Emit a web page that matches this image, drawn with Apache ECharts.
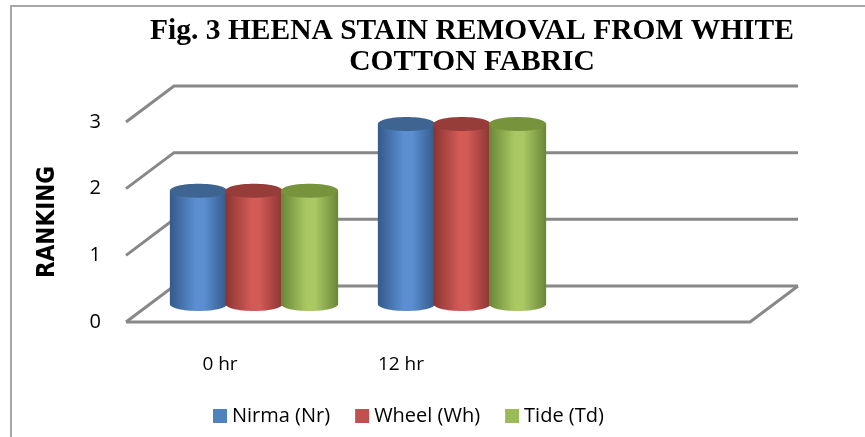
<!DOCTYPE html>
<html>
<head>
<meta charset="utf-8">
<script src="https://cdn.jsdelivr.net/npm/echarts@6/dist/echarts.min.js"></script>
<style>
  html, body { margin: 0; padding: 0; background: #fff; }
  #chart { width: 865px; height: 437px; }
</style>
</head>
<body>
<div id="chart"></div>
<script>
  // data
  const categories = ['0 hr', '12 hr', ''];
  const nirma = [1.7, 2.7];
  const wheel = [1.7, 2.7];
  const tide = [1.7, 2.7];
  const yTicks = [0, 1, 2, 3];

  const chart = echarts.init(document.getElementById('chart'));

  // depth of the 3D box (back wall offset) and where the cylinders stand
  const WALL_DX = 48, WALL_DY = -36;
  const BAR_DX = 24, BAR_DY = -18;

  const looks = [
    { name: 'Nirma (Nr)', flat: '#4f81bd', dark: '#35598a', mid: '#5b8fd1', top: '#3e6492' },
    { name: 'Wheel (Wh)', flat: '#c0504d', dark: '#8a3533', mid: '#d25a57', top: '#963c39' },
    { name: 'Tide (Td)', flat: '#9bbb59', dark: '#6a8636', mid: '#aac965', top: '#77933c' }
  ];

  function cylinder(idx) {
    let c = looks[idx];
    return function (params, api) {
      let cat = api.value(0);
      let v = api.value(1);
      let base = api.coord([cat, 0]);
      let topP = api.coord([cat, v]);
      let band = api.size([1, 0])[0];
      let rx = band * 0.275 / 2;
      let ry = 7;
      let cx = base[0] + BAR_DX + (idx - 1) * band * 0.267;
      let yb = base[1] + BAR_DY;
      let yt = topP[1] + BAR_DY;
      let grad = new echarts.graphic.LinearGradient(0, 0, 1, 0, [
        { offset: 0, color: c.dark },
        { offset: 0.45, color: c.mid },
        { offset: 0.6, color: c.mid },
        { offset: 1, color: c.dark }
      ]);
      return {
        type: 'group',
        children: [
          { type: 'ellipse', shape: { cx: cx, cy: yb, rx: rx, ry: ry }, style: { fill: grad } },
          { type: 'rect', shape: { x: cx - rx, y: yt, width: rx * 2, height: yb - yt }, style: { fill: grad } },
          { type: 'ellipse', shape: { cx: cx, cy: yt, rx: rx, ry: ry }, style: { fill: c.top } }
        ]
      };
    };
  }

  // back wall, side wall and floor lines
  function walls(params, api) {
    let cs = params.coordSys;
    let v = api.value(0);
    let y = api.coord([0, v])[1];
    let x0 = cs.x, x1 = cs.x + cs.width;
    let line = { fill: 'none', stroke: '#888888', lineWidth: 3 };
    let kids = [
      { type: 'polyline', shape: { points: [[x0, y], [x0 + WALL_DX, y + WALL_DY], [x1 + WALL_DX, y + WALL_DY]] }, style: line }
    ];
    if (v === 0) {
      kids.push({ type: 'polyline', shape: { points: [[x0, y], [x1, y], [x1 + WALL_DX, y + WALL_DY]] }, style: line });
    }
    return { type: 'group', children: kids };
  }

  let option = {
    animation: false,
    title: {
      text: 'Fig. 3 HEENA STAIN REMOVAL FROM WHITE\nCOTTON FABRIC',
      left: 467,
      top: 11,
      textAlign: 'center',
      textStyle: {
        fontFamily: 'Liberation Serif',
        fontWeight: 'bold',
        fontSize: 29.5,
        lineHeight: 31,
        color: '#000'
      }
    },
    graphic: [
      {
        type: 'rect',
        shape: { x: 11, y: 6, width: 900, height: 500 },
        style: { fill: 'none', stroke: '#a6a6a6', lineWidth: 2 }
      }
    ],
    legend: {
      data: looks.map(l => l.name),
      left: 208,
      top: 401,
      icon: 'rect',
      itemWidth: 14,
      itemHeight: 14,
      itemGap: 25,
      textStyle: { fontFamily: 'Open Sans', fontSize: 20, color: '#000' }
    },
    grid: {
      left: 126,
      right: 115,
      top: 122,
      bottom: 115
    },
    xAxis: {
      type: 'category',
      data: categories,
      axisLine: { show: false },
      axisTick: { show: false },
      axisLabel: {
        margin: 33,
        formatter: function (val, i) {
          return i === 0 ? '{a|' + val + '}' : '{b|' + val + '}';
        },
        rich: {
          a: { fontFamily: 'Open Sans', fontSize: 19, color: '#000', padding: [0, 20, 0, 0] },
          b: { fontFamily: 'Open Sans', fontSize: 19, color: '#000', padding: [0, 74, 0, 0] }
        }
      }
    },
    yAxis: {
      type: 'value',
      min: 0,
      max: 3,
      interval: 1,
      name: 'RANKING',
      nameLocation: 'middle',
      nameGap: 66,
      nameTextStyle: {
        fontFamily: "'Liberation Sans Narrow', 'DejaVu Sans Condensed', 'Liberation Sans', sans-serif",
        fontWeight: 'bold',
        fontSize: 24,
        color: '#000'
      },
      axisLine: { show: false },
      axisTick: { show: false },
      splitLine: { show: false },
      axisLabel: { margin: 25, fontFamily: 'Open Sans', fontSize: 20, color: '#000' }
    },
    series: [
      {
        name: 'walls',
        type: 'custom',
        renderItem: walls,
        data: yTicks.map(t => [t]),
        encode: { y: 0 },
        silent: true,
        z: 1
      },
      { name: looks[0].name, type: 'custom', renderItem: cylinder(0), itemStyle: { color: looks[0].flat }, data: nirma.map((v, i) => [i, v]), z: 2 },
      { name: looks[1].name, type: 'custom', renderItem: cylinder(1), itemStyle: { color: looks[1].flat }, data: wheel.map((v, i) => [i, v]), z: 2 },
      { name: looks[2].name, type: 'custom', renderItem: cylinder(2), itemStyle: { color: looks[2].flat }, data: tide.map((v, i) => [i, v]), z: 2 }
    ]
  };

  chart.setOption(option);
</script>
</body>
</html>
